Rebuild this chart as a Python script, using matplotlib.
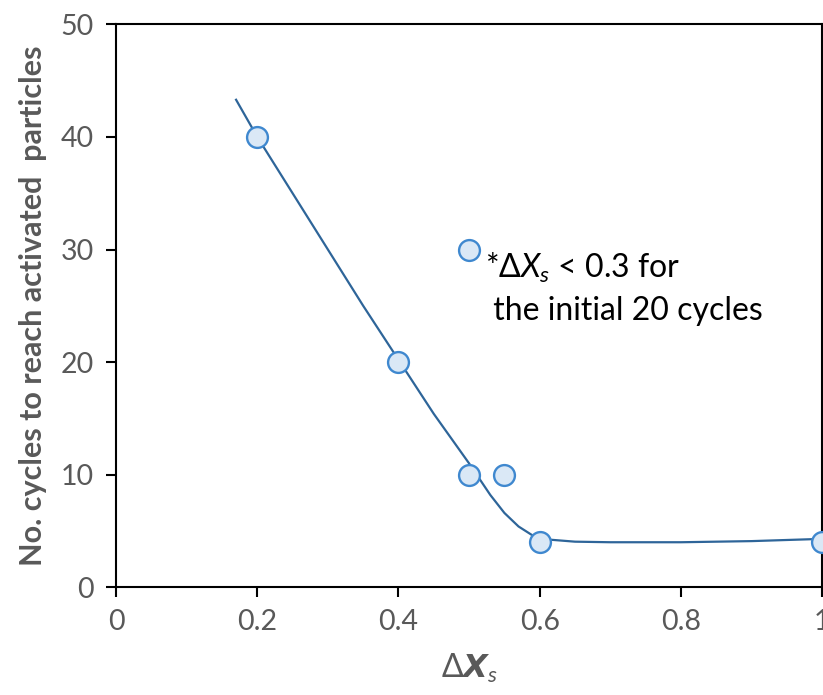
import matplotlib.pyplot as plt
import numpy as np

# measured points
dx = [0.2, 0.4, 0.5, 0.5, 0.55, 0.6, 1.0]
cycles = [40, 20, 30, 10, 10, 4, 4]

# trend line
fit_x = [0.17, 0.2, 0.25, 0.3, 0.35, 0.4, 0.45, 0.5, 0.53, 0.55, 0.57, 0.59, 0.6, 0.65, 0.7, 0.8, 0.9, 1.0]
fit_y = [43.3, 40.0, 35.0, 30.0, 25.0, 20.2, 15.4, 11.0, 8.2, 6.6, 5.4, 4.6, 4.3, 4.05, 4.0, 4.0, 4.1, 4.3]

plt.rcParams['font.family'] = ['Lato', 'DejaVu Sans']
plt.rcParams['mathtext.fontset'] = 'custom'
plt.rcParams['mathtext.rm'] = 'Lato'
plt.rcParams['mathtext.it'] = 'Lato:italic'
plt.rcParams['mathtext.bf'] = 'Lato:bold'

grey = '#595959'

fig = plt.figure(figsize=(8.23, 6.95), dpi=100)
ax = fig.add_axes([0.141, 0.155, 0.858, 0.810])

ax.plot(fit_x, fit_y, color='#2e6599', lw=1.6, zorder=2)
ax.plot(dx, cycles, 'o', ms=15, mfc='#dae8f6', mec='#3f88cf', mew=1.7, zorder=3, clip_on=False)

ax.set_xlim(0, 1)
ax.set_ylim(0, 50)
ax.set_xticks([0, 0.2, 0.4, 0.6, 0.8, 1.0])
ax.set_xticklabels(['0', '0.2', '0.4', '0.6', '0.8', '1'])
ax.set_yticks([0, 10, 20, 30, 40, 50])

for s in ax.spines.values():
    s.set_linewidth(1.5)
ax.tick_params(direction='out', length=7, width=1.5, labelsize=20.5, labelcolor=grey, pad=9)

ax.set_ylabel('No. cycles to reach activated  particles', fontsize=22, fontweight='bold', color=grey, labelpad=10)
ax.set_xlabel(r'$\Delta \mathbfit{X}_s$', fontsize=23, color=grey, labelpad=12)

ax.text(0.522, 29.9, r'*$\Delta X_s$ < 0.3 for' + '\n' + ' the initial 20 cycles',
        fontsize=23, va='top', ha='left', linespacing=1.45)

plt.savefig('out.png', dpi=100)
